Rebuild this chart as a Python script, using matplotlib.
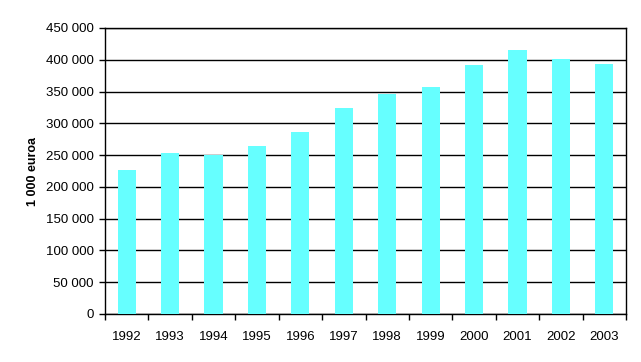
import numpy as np
import matplotlib
matplotlib.use("Agg")
import matplotlib.pyplot as plt
from matplotlib.ticker import FuncFormatter, FixedLocator

plt.rcParams['font.family'] = ['Liberation Sans', 'DejaVu Sans']

# data (1 000 euroa)
years = ['1992', '1993', '1994', '1995', '1996', '1997',
         '1998', '1999', '2000', '2001', '2002', '2003']
values = [226000, 253000, 250000, 264000, 286000, 324000,
          346000, 357000, 392000, 415000, 401000, 393000]
y_ticks = list(range(0, 450001, 50000))

fig = plt.figure(figsize=(6.41, 3.62), dpi=100)
ax = fig.add_axes([105 / 641, 1 - 314 / 362, 521 / 641, 286 / 362])

x = np.arange(len(years))
ax.bar(x, values, width=0.42, color='#66FFFF', zorder=3)

ax.set_xlim(-0.5, len(years) - 0.5)
ax.set_ylim(0, 450000)
ax.set_yticks(y_ticks)
ax.yaxis.set_major_formatter(FuncFormatter(lambda v, p: f"{int(v):,}".replace(",", " ")))
ax.yaxis.grid(True, color='black', linewidth=1, zorder=1)

ax.set_xticks(x)
ax.set_xticklabels(years)
ax.tick_params(axis='x', length=0, labelsize=9.5, pad=12)
ax.xaxis.set_minor_locator(FixedLocator(np.arange(-0.5, len(years), 1.0)))
ax.tick_params(axis='x', which='minor', length=4, width=1, direction='out')
ax.tick_params(axis='y', length=4, width=1, direction='out', labelsize=9.5, pad=4)

for s in ax.spines.values():
    s.set_linewidth(1)
    s.set_color('black')

ax.set_ylabel('1 000 euroa', fontsize=9, fontweight='bold', labelpad=5)

fig.savefig('out.png', dpi=100)
